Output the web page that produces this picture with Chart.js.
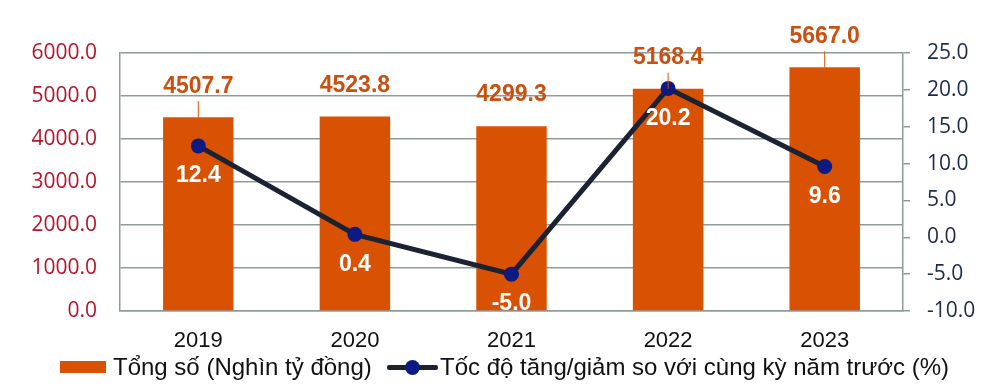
<!DOCTYPE html>
<html>
<head>
<meta charset="utf-8">
<script src="https://cdn.jsdelivr.net/npm/chart.js@4.4.1/dist/chart.umd.min.js"></script>
<style>
  html, body { margin: 0; padding: 0; background: #fff; }
  #wrap { position: relative; width: 1000px; height: 391px; }
  #chart { position: absolute; left: 0; top: 0; }
  .legend { position: absolute; top: 351px; left: 0; width: 1000px; height: 32px;
            font-family: "Liberation Sans", Arial, sans-serif; font-size: 24px; color: #111; }
  .legend .item { position: absolute; top: 0; display: flex; align-items: center; height: 32px; white-space: nowrap; }
  .swatch { width: 46px; height: 12px; background: #d95204; margin-right: 7px; }
  .lineKey { position: relative; width: 51px; height: 32px; margin-right: 2px; }
  .lineKey .bar { position: absolute; left: 0; right: 0; top: 14px; height: 5px; background: #1b2333; border-radius: 2px; }
  .lineKey .dot { position: absolute; left: 18px; top: 9px; width: 15px; height: 15px; border-radius: 50%; background: #0d1a82; }
</style>
</head>
<body>
<div id="wrap">
  <canvas id="chart" width="1000" height="391"></canvas>
  <div class="legend">
    <div class="item" style="left:60px"><div class="swatch"></div><span>Tổng số (Nghìn tỷ đồng)</span></div>
    <div class="item" style="left:387px"><div class="lineKey"><div class="bar"></div><div class="dot"></div></div><span>Tốc độ tăng/giảm so với cùng kỳ năm trước (%)</span></div>
  </div>
</div>
<script>
// Data
const years = ['2019', '2020', '2021', '2022', '2023'];
const totals = [4507.7, 4523.8, 4299.3, 5168.4, 5667.0];
const growth = [12.4, 0.4, -5.0, 20.2, 9.6];
const leaderAt = [0, 3, 4];

const orange = '#d95204';
const gridGray = '#8f9b9b';

// Value labels drawn on top of bars and below line points
const valueLabels = {
    id: 'valueLabels',
    afterDatasetsDraw(chart) {
        const ctx = chart.ctx;
        const barMeta = chart.getDatasetMeta(1);
        const lineMeta = chart.getDatasetMeta(0);
        ctx.save();
        ctx.textAlign = 'center';
        ctx.textBaseline = 'middle';
        ctx.font = 'bold 23px "Liberation Sans", Arial, sans-serif';

        barMeta.data.forEach((bar, i) => {
            const ly = bar.y - 31;
            if (leaderAt.includes(i)) {
                ctx.strokeStyle = orange;
                ctx.lineWidth = 1;
                ctx.beginPath();
                ctx.moveTo(bar.x, ly + 15);
                ctx.lineTo(bar.x, bar.y);
                ctx.stroke();
            }
            ctx.fillStyle = '#c9500f';
            ctx.fillText(totals[i].toFixed(1), bar.x, ly);
        });

        lineMeta.data.forEach((pt, i) => {
            ctx.fillStyle = '#ffffff';
            ctx.fillText(growth[i].toFixed(1), pt.x, pt.y + 30);
        });
        ctx.restore();
    }
};

const ctx = document.getElementById('chart').getContext('2d');
const chart = new Chart(ctx, {
    type: 'bar',
    data: {
        labels: years,
        datasets: [
            {
                type: 'line',
                label: 'Tốc độ tăng/giảm so với cùng kỳ năm trước (%)',
                data: growth,
                yAxisID: 'y1',
                borderColor: '#1b2333',
                borderWidth: 5,
                pointRadius: 7.5,
                pointBackgroundColor: '#0d1a82',
                pointBorderColor: '#0d1a82',
                pointBorderWidth: 0,
                tension: 0,
                order: 0
            },
            {
                type: 'bar',
                label: 'Tổng số (Nghìn tỷ đồng)',
                data: totals,
                yAxisID: 'y',
                backgroundColor: orange,
                categoryPercentage: 1,
                barPercentage: 0.45,
                order: 1
            }
        ]
    },
    options: {
        responsive: false,
        animation: false,
        layout: { padding: { top: 53, bottom: 20, left: 0, right: 0 } },
        plugins: {
            legend: { display: false },
            tooltip: { enabled: false }
        },
        scales: {
            x: {
                grid: { display: false },
                border: { display: true, color: gridGray, width: 1.5 },
                ticks: {
                    color: '#111',
                    padding: 9,
                    font: { family: '"Liberation Sans", Arial, sans-serif', size: 22 }
                },
                afterFit(scale) { scale.height = 60; }
            },
            y: {
                position: 'left',
                min: 0,
                max: 6000,
                border: { display: true, color: gridGray, width: 1.5 },
                grid: { color: gridGray, lineWidth: 1.5, drawTicks: false },
                ticks: {
                    stepSize: 1000,
                    color: '#b8142c',
                    padding: 23,
                    font: { family: '"Open Sans", sans-serif', size: 21 },
                    callback: v => v.toFixed(1)
                },
                afterFit(scale) { scale.width = 120; }
            },
            y1: {
                position: 'right',
                min: -10,
                max: 25,
                border: { display: true, color: gridGray, width: 1.5 },
                grid: { drawOnChartArea: false, drawTicks: true, tickLength: 7, color: gridGray, lineWidth: 1.5 },
                ticks: {
                    stepSize: 5,
                    color: '#1c2b48',
                    padding: 17,
                    font: { family: '"Open Sans", sans-serif', size: 21 },
                    callback: v => v.toFixed(1)
                },
                afterFit(scale) { scale.width = 97; }
            }
        }
    },
    plugins: [valueLabels]
});
</script>
</body>
</html>
